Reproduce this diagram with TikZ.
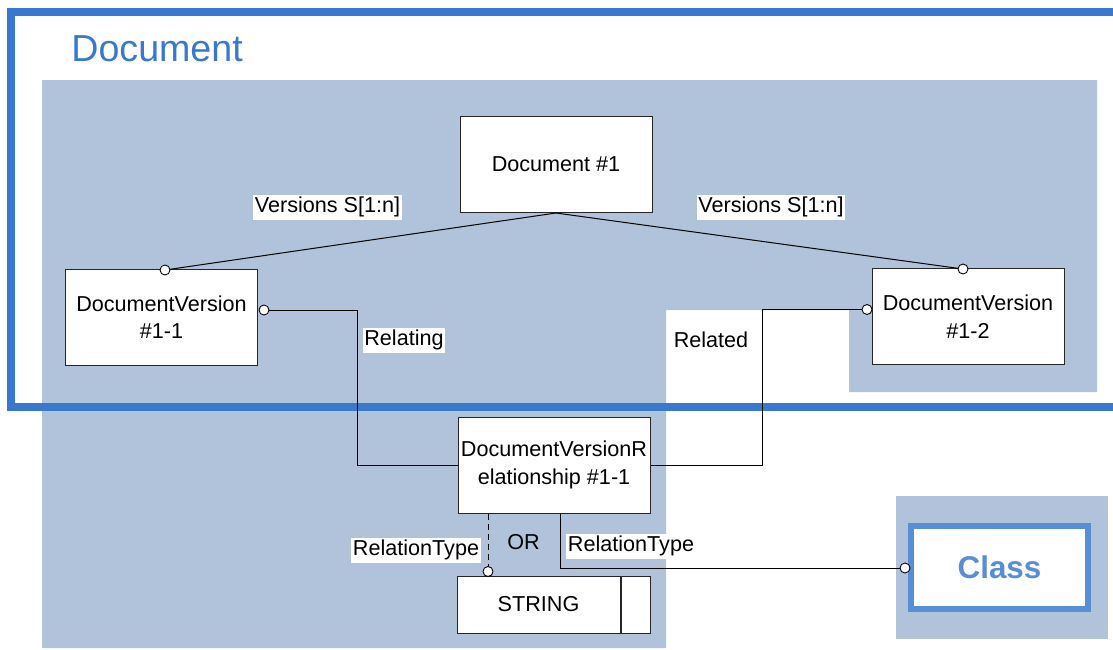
\documentclass[tikz,border=0pt]{standalone}
\usepackage{fontspec}
\setmainfont{Liberation Sans}
\usepackage{xcolor}
\usetikzlibrary{positioning}
\definecolor{frameblue}{RGB}{56,120,206}
\definecolor{areablue}{RGB}{176,195,219}
\definecolor{classblue}{RGB}{88,142,214}
\begin{document}
\begin{tikzpicture}[x=0.5pt,y=-0.5pt,
  entbox/.style={draw=black!85,line width=0.5pt,fill=white,align=center,inner sep=0pt,
    minimum width=96pt,minimum height=48pt,font=\fontsize{10.8pt}{13.8pt}\selectfont},
  knob/.style={circle,draw=black,line width=0.45pt,fill=white,inner sep=0pt,minimum size=5pt},
  tag/.style={fill=white,inner sep=0.8pt,minimum height=12.5pt,font=\fontsize{10.8pt}{13pt}\selectfont},
  link/.style={draw=black,line width=0.5pt}]
\useasboundingbox (0,0) rectangle (1113,649);
% shaded areas
\fill[areablue] (42,80) -- (1097,80) -- (1097,392) -- (849,392) -- (849,310)
  -- (666,310) -- (666,648) -- (42,648) -- cycle;
\fill[areablue] (896,496) rectangle (1108,639);
% frame of the Document package
\draw[frameblue,line width=4pt] (1113,12) -- (11,12) -- (11,407) -- (1113,407);
\node[anchor=west,inner sep=0pt,text=frameblue,font=\fontsize{18.8pt}{22pt}\selectfont]
  (pkgtitle) at (71,49) {Document};
% entities
\node[entbox] (doc) at (556,164.5) {Document \#1};
\node[entbox] (dv1) at (161.5,317) {DocumentVersion\\\#1-1};
\node[entbox] (dv2) at (968,316.5) {DocumentVersion\\\#1-2};
\node[entbox] (dvr) at (554,465) {DocumentVersionR\\elationship \#1-1};
\node[entbox,minimum width=81.5pt,minimum height=28.5pt] (str) at (538.5,604.5) {STRING};
\node[draw=black!85,line width=0.5pt,fill=white,inner sep=0pt,minimum width=14.5pt,
  minimum height=28.5pt,anchor=west] (strcap) at (str.east) {};
\node[draw=classblue,line width=3pt,fill=white,inner sep=0pt,minimum width=88.5pt,
  minimum height=41.5pt,text=classblue,font=\fontsize{15.7pt}{18pt}\selectfont\bfseries]
  (cls) at (999.5,567.5) {Class};
% end knobs
\node[knob] (kdv1t) at (165,270) {};
\node[knob] (kdv2t) at (963,269) {};
\node[knob] (kdv1r) at (264,310) {};
\node[knob] (kdv2l) at (867,309.5) {};
\node[knob] (kstr) at (488,571.5) {};
\node[knob] (kcls) at (905,568) {};
\coordinate (relA) at (357,465);
\coordinate (relB) at (762,309.5);
% connectors
\draw[link] (doc.south) -- (kdv1t);
\draw[link] (doc.south) -- (kdv2t);
\draw[link] (kdv1r.east) -| (relA) -- (dvr.west);
\draw[link] (dvr.east) -| (relB) -- (kdv2l.west);
\draw[link,densely dashed] ([xshift=-33pt]dvr.south) -- (kstr.north);
\draw[link] ([xshift=3pt]dvr.south) |- (kcls.west);
% labels
\node[tag] (lver1) at (327.5,207) {Versions S[1:n]};
\node[tag] (lver2) at (771,207) {Versions S[1:n]};
\node[tag] (lrelating) at (404,340) {Relating};
\node[tag] (lrelated) at (711,340) {Related};
\node[tag] (ltype1) at (416,550) {RelationType};
\node[font=\fontsize{10.8pt}{13pt}\selectfont,inner sep=0pt] (lor) at (523.5,542) {OR};
\node[tag] (ltype2) at (631,546) {RelationType};
\end{tikzpicture}
\end{document}
